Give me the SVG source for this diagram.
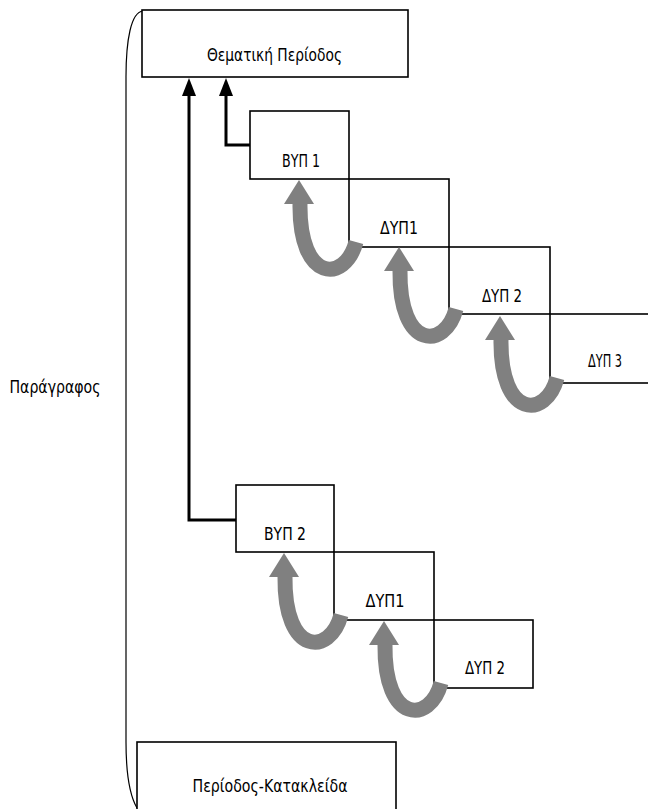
<svg xmlns="http://www.w3.org/2000/svg" xmlns:xlink="http://www.w3.org/1999/xlink" width="648" height="809" viewBox="0 0 648 809">
<style>
.box{fill:#fff;stroke:#000;stroke-width:1.6}
.lbl{font-family:"DejaVu Sans Condensed","Liberation Sans",sans-serif;font-size:17px;fill:#000;text-anchor:middle}
.conn{fill:none;stroke:#000;stroke-width:3}
.head{fill:#000}
.brace{fill:none;stroke:#000;stroke-width:1.2}
.uarc{fill:none;stroke:#808080;stroke-width:15}
.uhead{fill:#808080}
</style>
<defs>
<g id="uturn">
<path class="uarc" d="M 7 -5 C -4 36, -50 36, -49 -43"/>
<polygon class="uhead" points="-50,-67 -65,-43 -35,-43"/>
</g>
</defs>
<rect width="648" height="809" fill="#fff"/>
<path class="brace" d="M 143 11 C 131 12, 126 40, 126 77 L 126 742 C 126 778, 130 796, 137 808"/>
<g id="top">
<rect class="box" x="142" y="10" width="266" height="67"/>
<text class="lbl" x="274.5" y="61" textLength="135" lengthAdjust="spacingAndGlyphs">Θεματική Περίοδος</text>
</g>
<g id="byp1">
<rect class="box" x="250" y="111" width="99" height="68"/>
<text class="lbl" x="301" y="167" textLength="38" lengthAdjust="spacingAndGlyphs">ΒΥΠ 1</text>
</g>
<g id="dyp1a">
<rect class="box" x="349" y="179" width="100" height="68"/>
<text class="lbl" x="399" y="234" textLength="38" lengthAdjust="spacingAndGlyphs">ΔΥΠ1</text>
</g>
<g id="dyp2a">
<rect class="box" x="449" y="247" width="101" height="67"/>
<text class="lbl" x="502" y="302" textLength="40" lengthAdjust="spacingAndGlyphs">ΔΥΠ 2</text>
</g>
<g id="dyp3a">
<rect class="box" x="550" y="314" width="110" height="69"/>
<text class="lbl" x="605" y="367" textLength="34" lengthAdjust="spacingAndGlyphs">ΔΥΠ 3</text>
</g>
<g id="byp2">
<rect class="box" x="236" y="485" width="98" height="67"/>
<text class="lbl" x="285" y="540" textLength="42" lengthAdjust="spacingAndGlyphs">ΒΥΠ 2</text>
</g>
<g id="dyp1b">
<rect class="box" x="334" y="552" width="100" height="68"/>
<text class="lbl" x="385" y="607" textLength="39" lengthAdjust="spacingAndGlyphs">ΔΥΠ1</text>
</g>
<g id="dyp2b">
<rect class="box" x="434" y="620" width="99" height="68"/>
<text class="lbl" x="485" y="674" textLength="40" lengthAdjust="spacingAndGlyphs">ΔΥΠ 2</text>
</g>
<g id="bottom">
<rect class="box" x="137" y="742" width="259" height="70"/>
<text class="lbl" x="270" y="792" textLength="155" lengthAdjust="spacingAndGlyphs">Περίοδος-Κατακλείδα</text>
</g>
<g id="para">
<text class="lbl" x="55" y="393" textLength="91" lengthAdjust="spacingAndGlyphs">Παράγραφος</text>
</g>
<g id="connectors">
<path class="conn" d="M 250 145 L 226 145 L 226 95"/>
<polygon class="head" points="226,78 219,96 233,96"/>
<path class="conn" d="M 236 520 L 189 520 L 189 95"/>
<polygon class="head" points="189,78 182,96 196,96"/>
<use xlink:href="#uturn" transform="translate(349,247)"/>
<use xlink:href="#uturn" transform="translate(449,314)"/>
<use xlink:href="#uturn" transform="translate(550,383)"/>
<use xlink:href="#uturn" transform="translate(334,620)"/>
<use xlink:href="#uturn" transform="translate(434,688)"/>
</g>
</svg>
